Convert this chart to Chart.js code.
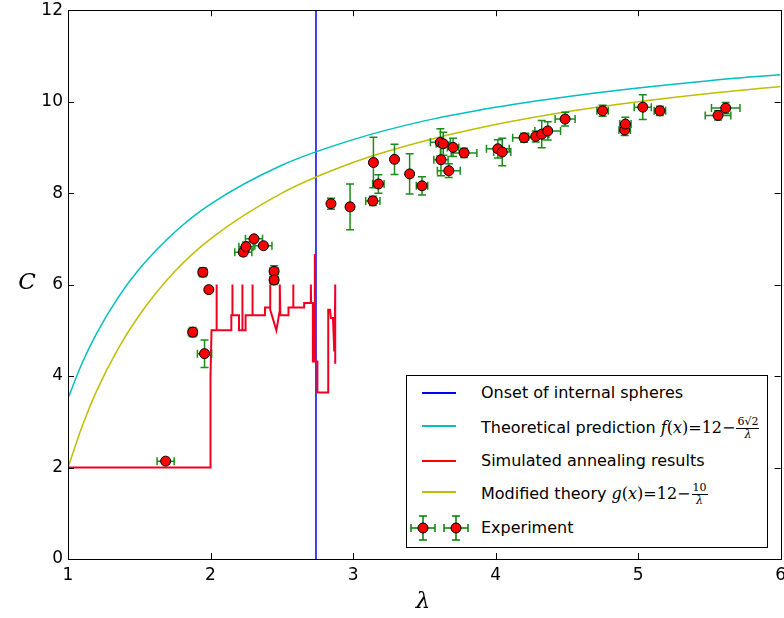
<!DOCTYPE html>
<html>
<head>
<meta charset="utf-8">
<script src="https://cdn.jsdelivr.net/npm/chart.js@4/dist/chart.umd.min.js"></script>
<style>
  body { margin: 0; background: #fff; }
  #wrap { position: relative; width: 784px; height: 618px; overflow: hidden; }
  #c { position: absolute; left: 0; top: -5px; }
  #legend { position: absolute; left: 406px; top: 375px; width: 360px; height: 171px;
    border: 1px solid #000; background: #fff; font-family: 'DejaVu Sans'; font-size: 16px; color: #000; }
  .row { position: absolute; left: 0; height: 20px; }
  .sample { position: absolute; left: 15px; width: 34px; height: 2px; top: 9px; }
  .lbl { position: absolute; left: 74px; top: 0; white-space: nowrap; line-height: 20px; }
  .m { font-family: 'DejaVu Serif'; }
  .i { font-style: italic; }
  .frac { display: inline-block; vertical-align: middle; text-align: center; font-size: 11px; line-height: 12px; margin-left: 1px; }
  .frac .num { display: block; border-bottom: 1px solid #000; padding: 0 1px; }
  .frac .den { display: block; font-style: italic; }
</style>
</head>
<body>
<div id="wrap">
  <canvas id="c" width="792" height="623"></canvas>
  <div id="legend">
    <div class="row" style="top:7px"><div class="sample" style="background:#0000ff"></div><div class="lbl">Onset of internal spheres</div></div>
    <div class="row" style="top:40px"><div class="sample" style="background:#00bfbf"></div><div class="lbl">Theoretical prediction <span class="m"><span class="i">f</span>(<span class="i">x</span>)=12−<span class="frac"><span class="num">6√2</span><span class="den">λ</span></span></span></div></div>
    <div class="row" style="top:75px"><div class="sample" style="background:#ff0000"></div><div class="lbl">Simulated annealing results</div></div>
    <div class="row" style="top:106px"><div class="sample" style="background:#bfbf00"></div><div class="lbl">Modified theory <span class="m"><span class="i">g</span>(<span class="i">x</span>)=12−<span class="frac"><span class="num">10</span><span class="den">λ</span></span></span></div></div>
    <div class="row" style="top:142px">
      <svg width="70" height="30" style="position:absolute;left:0;top:-5px">
        <g stroke="#008000" stroke-width="1.5" fill="none">
          <path d="M4 15 H28 M4 11 V19 M28 11 V19 M16 3 V27 M12 3 H20 M12 27 H20"/>
          <path d="M37 15 H61 M37 11 V19 M61 11 V19 M49 3 V27 M45 3 H53 M45 27 H53"/>
        </g>
        <circle cx="16" cy="15" r="5" fill="#ff0000" stroke="#000" stroke-width="1"/>
        <circle cx="49" cy="15" r="5" fill="#ff0000" stroke="#000" stroke-width="1"/>
      </svg>
      <div class="lbl">Experiment</div></div>
  </div>
</div>
<script>
// onset of internal spheres
const onsetX = 2.74;

// theory curves
const curveX = [1, 1.1, 1.2, 1.35, 1.5, 1.75, 2, 2.5, 3, 3.5, 4, 4.5, 5, 5.5, 6];
const theoryY = [3.51, 4.29, 4.93, 5.71, 6.34, 7.15, 7.76, 8.61, 9.17, 9.58, 9.88, 10.11, 10.30, 10.46, 10.59];
const modifiedY = [2.0, 2.91, 3.67, 4.59, 5.33, 6.29, 7.0, 8.0, 8.67, 9.14, 9.5, 9.78, 10.0, 10.18, 10.33];

// simulated annealing trace
const annealX = [1.0, 2.0, 2.0, 2.007, 2.042, 2.042, 2.044, 2.146, 2.146, 2.153, 2.153, 2.155, 2.2, 2.2,
  2.223, 2.223, 2.225, 2.246, 2.246, 2.294, 2.294, 2.296, 2.382, 2.382, 2.418, 2.418, 2.42, 2.462,
  2.484, 2.486, 2.49, 2.547, 2.547, 2.58, 2.58, 2.582, 2.657, 2.657, 2.704, 2.704, 2.706, 2.718,
  2.718, 2.732, 2.732, 2.735, 2.75, 2.75, 2.826, 2.826, 2.838, 2.845, 2.859, 2.868, 2.872, 2.875, 2.875];
const annealY = [2.0, 2.0, 4.0, 5.0, 5.0, 6.0, 5.0, 5.0, 5.33, 5.33, 6.0, 5.33, 5.33, 5.0,
  5.0, 6.0, 5.0, 5.0, 5.33, 5.33, 6.0, 5.33, 5.33, 5.5, 5.5, 6.0, 5.45, 5.0,
  5.4, 6.0, 5.33, 5.33, 5.5, 5.5, 6.0, 5.5, 5.5, 5.6, 5.6, 6.0, 5.6, 5.6,
  4.32, 4.32, 6.67, 4.32, 4.32, 3.64, 3.64, 5.45, 5.45, 5.27, 5.27, 4.56, 4.9, 6.0, 4.27];

// experiment
const expX = [1.685, 1.875, 1.946, 1.958, 1.988, 2.23, 2.249, 2.305, 2.371, 2.446, 2.446, 2.845, 2.979,
  3.139, 3.143, 3.178, 3.291, 3.397, 3.484, 3.613, 3.633, 3.617, 3.672, 3.702, 3.779, 4.016, 4.047,
  4.2, 4.282, 4.324, 4.366, 4.488, 4.751, 4.906, 4.911, 5.033, 5.153, 5.561, 5.615];
const expY = [2.14, 4.96, 6.27, 4.49, 5.89, 6.71, 6.83, 7.0, 6.85, 6.29, 6.10, 7.77, 7.70,
  7.83, 8.67, 8.20, 8.74, 8.42, 8.16, 9.11, 9.08, 8.73, 8.49, 9.0, 8.88, 8.97, 8.90,
  9.21, 9.24, 9.29, 9.36, 9.62, 9.80, 9.38, 9.51, 9.88, 9.80, 9.70, 9.86];
const expXErr = [0.06, 0.03, 0.03, 0.05, 0.02, 0.06, 0.05, 0.06, 0.06, 0.03, 0.03, 0.02, 0.02,
  0.05, 0.02, 0.04, 0.02, 0.02, 0.04, 0.07, 0.05, 0.05, 0.08, 0.04, 0.09, 0.08, 0.06,
  0.08, 0.05, 0.05, 0.09, 0.07, 0.04, 0.04, 0.04, 0.06, 0.04, 0.09, 0.1];
const expYErr = [0.06, 0.1, 0.1, 0.3, 0.05, 0.08, 0.1, 0.05, 0.05, 0.12, 0.1, 0.12, 0.5,
  0.1, 0.55, 0.2, 0.33, 0.44, 0.2, 0.3, 0.25, 0.35, 0.15, 0.2, 0.1, 0.2, 0.3,
  0.1, 0.12, 0.3, 0.2, 0.15, 0.12, 0.12, 0.15, 0.27, 0.1, 0.1, 0.12];

const xTicks = [1, 2, 3, 4, 5, 6];
const yTicks = [0, 2, 4, 6, 8, 10, 12];

const pts = (xs, ys) => xs.map((x, i) => ({x: x, y: ys[i]}));

const EXP = 4;

function drawErrorBars(chart) {
  const ctx = chart.ctx, sx = chart.scales.x, sy = chart.scales.y;
  ctx.save();
  ctx.strokeStyle = 'rgba(0,128,0,0.9)';
  ctx.lineWidth = 1.5;
  ctx.beginPath();
  for (let i = 0; i < expX.length; i++) {
    const px = sx.getPixelForValue(expX[i]), py = sy.getPixelForValue(expY[i]);
    const x0 = sx.getPixelForValue(expX[i] - expXErr[i]), x1 = sx.getPixelForValue(expX[i] + expXErr[i]);
    const y0 = sy.getPixelForValue(expY[i] - expYErr[i]), y1 = sy.getPixelForValue(expY[i] + expYErr[i]);
    ctx.moveTo(x0, py); ctx.lineTo(x1, py);
    ctx.moveTo(x0, py - 4); ctx.lineTo(x0, py + 4);
    ctx.moveTo(x1, py - 4); ctx.lineTo(x1, py + 4);
    ctx.moveTo(px, y0); ctx.lineTo(px, y1);
    ctx.moveTo(px - 4, y0); ctx.lineTo(px + 4, y0);
    ctx.moveTo(px - 4, y1); ctx.lineTo(px + 4, y1);
  }
  ctx.stroke();
  ctx.restore();
}

const framePlugin = {
  id: 'frame',
  beforeDatasetDraw(chart, args) {
    if (args.index === EXP) drawErrorBars(chart);
  },
  afterDraw(chart) {
    const ctx = chart.ctx, a = chart.chartArea, sx = chart.scales.x, sy = chart.scales.y;
    ctx.save();
    ctx.strokeStyle = '#000';
    ctx.lineWidth = 1;
    ctx.strokeRect(Math.round(a.left) + 0.5, Math.round(a.top) + 0.5, Math.round(a.right - a.left), Math.round(a.bottom - a.top));
    ctx.beginPath();
    xTicks.forEach(v => {
      const x = Math.round(sx.getPixelForValue(v)) + 0.5;
      ctx.moveTo(x, a.bottom); ctx.lineTo(x, a.bottom - 6);
      ctx.moveTo(x, a.top); ctx.lineTo(x, a.top + 6);
    });
    yTicks.forEach(v => {
      const y = Math.round(sy.getPixelForValue(v)) + 0.5;
      ctx.moveTo(a.left, y); ctx.lineTo(a.left + 6, y);
      ctx.moveTo(a.right, y); ctx.lineTo(a.right - 6, y);
    });
    ctx.stroke();
    ctx.fillStyle = '#000';
    ctx.font = 'italic 23px "DejaVu Serif"';
    ctx.textAlign = 'center';
    ctx.textBaseline = 'middle';
    // canvas sits 5px above the page
    ctx.fillText('C', 27, 288);
    ctx.fillText('λ', 423, 607);
    ctx.restore();
  }
};

new Chart(document.getElementById('c'), {
  type: 'line',
  data: {
    datasets: [
      {label: 'Onset of internal spheres', data: pts([onsetX, onsetX], [0, 12]),
        borderColor: '#0000ff', borderWidth: 1.5, pointRadius: 0, order: 4},
      {label: 'Theoretical prediction', data: pts(curveX, theoryY),
        borderColor: '#00bfbf', borderWidth: 1.5, pointRadius: 0, cubicInterpolationMode: 'monotone', order: 3},
      {label: 'Simulated annealing results', data: pts(annealX, annealY),
        borderColor: '#f00020', borderWidth: 2, pointRadius: 0, order: 2},
      {label: 'Modified theory', data: pts(curveX, modifiedY),
        borderColor: '#bfbf00', borderWidth: 1.5, pointRadius: 0, cubicInterpolationMode: 'monotone', order: 1},
      {label: 'Experiment', data: pts(expX, expY), showLine: false,
        pointRadius: 5, pointBackgroundColor: '#ff0000', pointBorderColor: '#000', pointBorderWidth: 1, order: 0}
    ]
  },
  options: {
    responsive: false,
    animation: false,
    devicePixelRatio: 1,
    layout: {padding: {top: 9, right: 6, left: 0, bottom: 0}},
    plugins: {legend: {display: false}, tooltip: {enabled: false}},
    scales: {
      x: {
        type: 'linear', min: 1, max: 6,
        afterBuildTicks: s => { s.ticks = xTicks.map(v => ({value: v})); },
        ticks: {color: '#000', font: {family: 'DejaVu Sans', size: 17}, padding: 6, maxRotation: 0},
        grid: {display: false, drawTicks: false},
        border: {display: false},
        afterFit: s => { s.height = 59; }
      },
      y: {
        type: 'linear', min: 0, max: 12,
        afterBuildTicks: s => { s.ticks = yTicks.map(v => ({value: v})); },
        ticks: {color: '#000', font: {family: 'DejaVu Sans', size: 17}, padding: 5},
        grid: {display: false, drawTicks: false},
        border: {display: false},
        afterFit: s => { s.width = 68; }
      }
    }
  },
  plugins: [framePlugin]
});
</script>
</body>
</html>
